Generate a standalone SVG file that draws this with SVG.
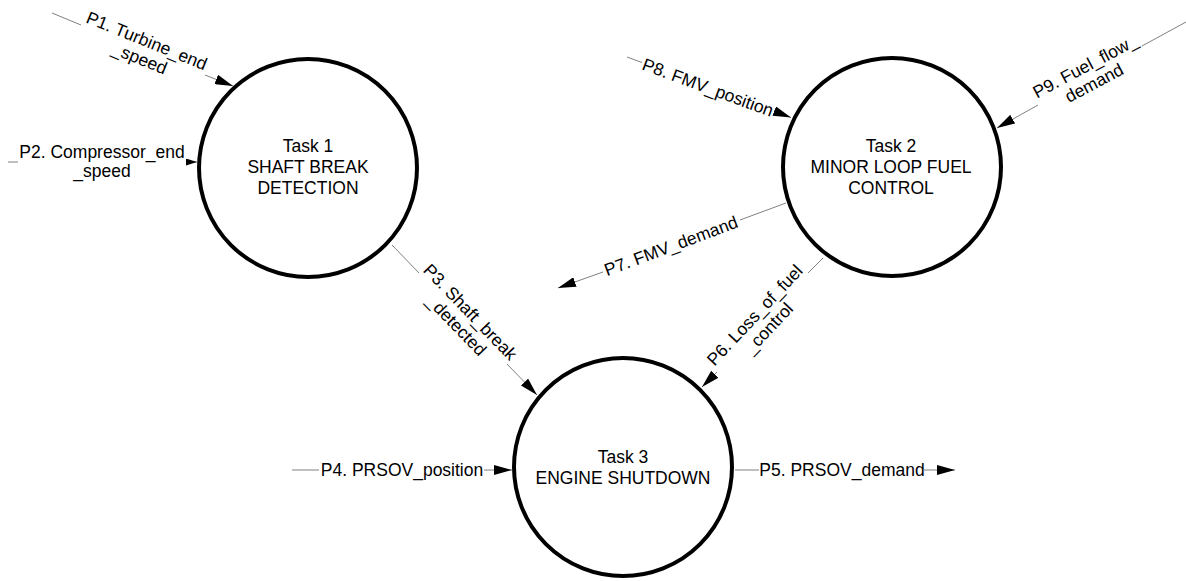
<svg xmlns="http://www.w3.org/2000/svg" width="1186" height="581" viewBox="0 0 1186 581">
<style>
.node{fill:#fff;stroke:#000;stroke-width:4}
.nt{font-family:"Liberation Sans",Arial,sans-serif;font-size:17.5px;fill:#000;text-anchor:middle}
.lt{font-family:"Liberation Sans",Arial,sans-serif;font-size:17.5px;fill:#000;text-anchor:middle}
.ln{fill:none;stroke:#808080;stroke-width:1}
</style>
<defs>
<marker id="arr" markerUnits="userSpaceOnUse" markerWidth="18" markerHeight="10" viewBox="0 0 18 10" refX="18" refY="5" orient="auto">
<path d="M0,0 L18,5 L0,10 z" fill="#000"/>
</marker>
<marker id="arrs" markerUnits="userSpaceOnUse" markerWidth="11" markerHeight="7" viewBox="0 0 11 7" refX="11" refY="3.5" orient="auto">
<path d="M0,0 L11,3.5 L0,7 z" fill="#000"/>
</marker>
</defs>
<g id="task1">
<circle class="node" cx="308" cy="168" r="109"/>
<text class="nt" x="308" y="152">Task 1</text>
<text class="nt" x="308" y="173">SHAFT BREAK</text>
<text class="nt" x="308" y="194">DETECTION</text>
</g>
<g id="task2">
<circle class="node" cx="892" cy="167" r="109"/>
<text class="nt" x="891" y="152">Task 2</text>
<text class="nt" x="891" y="173">MINOR LOOP FUEL</text>
<text class="nt" x="891" y="194">CONTROL</text>
</g>
<g id="task3">
<circle class="node" cx="623" cy="467" r="109"/>
<text class="nt" x="623" y="463">Task 3</text>
<text class="nt" x="623" y="484">ENGINE SHUTDOWN</text>
</g>
<g id="connectors">
<g id="p1">
<path class="ln" d="M52,13 L81,25"/>
<path class="ln" d="M205,75 L233,86" marker-end="url(#arr)"/>
<g transform="translate(143,50) rotate(22)"><text class="lt" x="0" y="-4">P1. Turbine_end</text><text class="lt" x="0" y="15">_speed</text></g>
</g>
<g id="p2">
<path class="ln" d="M8,162 L18,162"/>
<path class="ln" d="M186,162 L197,162" marker-end="url(#arrs)"/>
<text class="lt" x="102" y="158">P2. Compressor_end</text>
<text class="lt" x="102" y="177">_speed</text>
</g>
<g id="p3">
<path class="ln" d="M392,245 L419,273"/>
<path class="ln" d="M507,364 L537,395" marker-end="url(#arr)"/>
<g transform="translate(463,319) rotate(46)"><text class="lt" x="0" y="-4">P3. Shaft_break</text><text class="lt" x="0" y="15">_detected</text></g>
</g>
<g id="p4">
<path class="ln" d="M292,470 L319,470"/>
<path class="ln" d="M484,470 L512,470" marker-end="url(#arr)"/>
<text class="lt" x="402" y="476">P4. PRSOV_position</text>
</g>
<g id="p5">
<path class="ln" d="M735,470 L759,470"/>
<path class="ln" d="M924,470 L955,470" marker-end="url(#arr)"/>
<text class="lt" x="842" y="476">P5. PRSOV_demand</text>
</g>
<g id="p6">
<path class="ln" d="M823,258 L808,273"/>
<path class="ln" d="M717,372 L702,387" marker-end="url(#arr)"/>
<g transform="translate(762,322) rotate(-46.8)"><text class="lt" x="0" y="-4">P6. Loss_of_fuel</text><text class="lt" x="0" y="15">_control</text></g>
</g>
<g id="p7">
<path class="ln" d="M786,203 L740,220"/>
<path class="ln" d="M603,272 L558,288" marker-end="url(#arr)"/>
<g transform="translate(671,246) rotate(-20.5)"><text class="lt" x="0" y="6">P7. FMV_demand</text></g>
</g>
<g id="p8">
<path class="ln" d="M627,57 L642,62.5"/>
<path class="ln" d="M774,111 L791,117.5" marker-end="url(#arr)"/>
<g transform="translate(708,87.5) rotate(20.2)"><text class="lt" x="0" y="6">P8. FMV_position</text></g>
</g>
<g id="p9">
<path class="ln" d="M1186,22 L1142,46"/>
<path class="ln" d="M1038,105 L997,128" marker-end="url(#arr)"/>
<g transform="translate(1090,75) rotate(-28)"><text class="lt" x="0" y="-4">P9. Fuel_flow_</text><text class="lt" x="0" y="15">demand</text></g>
</g>
</g>
</svg>
